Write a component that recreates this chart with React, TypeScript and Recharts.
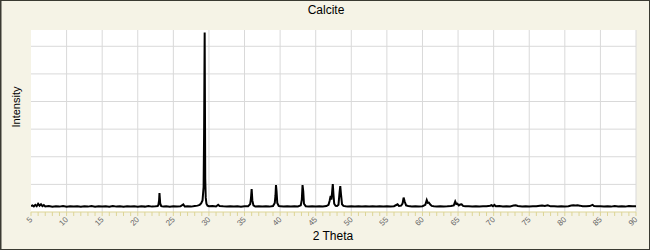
import { LineChart, Line, XAxis, YAxis, CartesianGrid } from "recharts";

// Powder diffraction scan
const twoTheta = [
  5.0, 5.2, 5.4, 5.6, 5.8, 6.0, 6.2, 6.4, 6.6, 6.8, 7.0, 7.5, 8.0, 8.5, 9.0, 9.5,
  10.0, 10.5, 11.0, 11.5, 12.0, 12.5, 13.0, 13.5, 14.0, 14.5, 15.0, 15.5, 16.0, 16.5,
  17.0, 17.5, 18.0, 18.5, 19.0, 19.5, 20.0, 20.5, 21.0, 21.5, 22.0, 22.5, 22.8, 22.9,
  23.0, 23.05, 23.15, 23.3, 23.6, 24.0, 24.5, 25.0, 25.5, 26.0, 26.4, 26.6, 27.0, 27.5,
  28.0, 28.4, 28.7, 28.9, 29.1, 29.25, 29.32, 29.4, 29.48, 29.55, 29.65, 29.8, 30.0,
  30.5, 31.0, 31.3, 31.5, 32.0, 32.5, 33.0, 33.5, 34.0, 34.5, 35.0, 35.5, 35.8, 35.9,
  36.0, 36.1, 36.25, 36.5, 37.0, 37.5, 38.0, 38.5, 39.0, 39.25, 39.35, 39.42, 39.5,
  39.6, 39.8, 40.0, 40.5, 41.0, 41.5, 42.0, 42.5, 42.9, 43.05, 43.15, 43.25, 43.35,
  43.6, 44.0, 44.5, 45.0, 45.5, 46.0, 46.5, 46.8, 46.95, 47.1, 47.2, 47.3, 47.4, 47.5,
  47.6, 47.8, 48.0, 48.2, 48.35, 48.45, 48.55, 48.7, 48.9, 49.2, 49.5, 50.0, 50.5,
  51.0, 51.5, 52.0, 52.5, 53.0, 53.5, 54.0, 54.5, 55.0, 55.5, 56.0, 56.5, 56.7, 57.0,
  57.2, 57.35, 57.5, 57.7, 58.0, 58.5, 59.0, 59.5, 60.0, 60.4, 60.6, 60.75, 60.9, 61.1,
  61.3, 61.6, 62.0, 62.5, 63.0, 63.5, 64.0, 64.4, 64.6, 64.75, 64.9, 65.1, 65.3, 65.5,
  65.7, 66.0, 66.5, 67.0, 67.5, 68.0, 68.5, 69.0, 69.5, 69.7, 69.9, 70.1, 70.3, 70.8,
  71.3, 71.8, 72.3, 72.8, 73.1, 73.4, 74.0, 74.5, 75.0, 75.5, 76.0, 76.5, 76.8, 77.2,
  77.6, 78.0, 78.5, 79.0, 79.5, 80.0, 80.5, 80.9, 81.2, 81.5, 81.8, 82.1, 82.5, 83.0,
  83.5, 83.9, 84.1, 84.5, 85.0, 85.5, 86.0, 86.5, 87.0, 87.5, 88.0, 88.5, 89.0, 89.5,
  90.0,
];

const counts = [
  215, 240, 205, 260, 210, 300, 230, 280, 210, 250, 200, 215, 190, 210, 195, 215,
  190, 210, 195, 205, 190, 210, 195, 215, 190, 210, 200, 205, 190, 215,
  195, 205, 190, 210, 195, 205, 190, 210, 195, 220, 195, 205, 215, 260,
  430, 690, 310, 210, 195, 205, 190, 210, 195, 205, 275, 200, 210, 195,
  215, 230, 260, 310, 420, 900, 2860, 6500, 1200, 520, 300, 230, 210,
  215, 200, 260, 220, 205, 195, 210, 195, 205, 190, 210, 205, 290, 480,
  830, 420, 240, 200, 210, 195, 205, 195, 215, 330, 600, 975, 750,
  330, 220, 205, 195, 210, 195, 205, 200, 240, 450, 975, 750, 300,
  210, 200, 210, 195, 205, 200, 215, 260, 400, 580, 450, 700, 1010, 620,
  300, 220, 215, 260, 700, 940, 650, 280, 220, 205, 200, 210, 195,
  205, 195, 210, 195, 205, 195, 210, 200, 205, 195, 210, 280, 220, 230,
  300, 520, 380, 240, 215, 200, 210, 195, 210, 260, 430, 330, 340, 270,
  220, 205, 195, 210, 200, 205, 215, 240, 380, 290, 300, 240, 270, 280,
  220, 205, 210, 195, 205, 200, 205, 210, 225, 245, 210, 255, 205, 215,
  200, 210, 200, 235, 240, 215, 200, 210, 195, 210, 205, 230, 235, 215,
  240, 205, 210, 200, 205, 200, 210, 235, 240, 235, 240, 230, 205, 210,
  215, 260, 220, 205, 210, 200, 210, 195, 215, 200, 210, 195, 215, 205,
  210,
];

const xTickLabels = [5, 10, 15, 20, 25, 30, 35, 40, 45, 50, 55, 60, 65, 70, 75, 80, 85, 90];
const yGridValues = [1000, 2000, 3000, 4000, 5000, 6000];
const yMinorTicks = [0, 500, 1000, 1500, 2000, 2500, 3000, 3500, 4000, 4500, 5000, 5500, 6000, 6500];

const data = twoTheta.map((x, i) => ({ x, y: counts[i] }));
const xMinorTicks = Array.from({ length: 86 }, (_, i) => 5 + i);

const AXIS = "#ddd597";
const FONT = "'Liberation Sans', Arial, sans-serif";

function XTick(props: any) {
  const { x, y, payload } = props;
  if (!xTickLabels.includes(payload.value)) return <g />;
  return (
    <text
      x={x + 2}
      y={y + 2}
      textAnchor="end"
      fontSize={8}
      fill="#666"
      fontFamily={FONT}
      transform={`rotate(-45, ${x + 2}, ${y + 2})`}
    >
      {payload.value}
    </text>
  );
}

export default function App() {
  return (
    <div
      style={{
        position: "absolute",
        left: 0,
        top: 0,
        width: 650,
        height: 250,
        background: "#f5f3e6",
      }}
    >
      <LineChart
        width={650}
        height={250}
        data={data}
        margin={{ top: 30, right: 14, bottom: 8, left: 31 }}
      >
        <CartesianGrid
          stroke="#d9d9d9"
          fill="#ffffff"
          horizontalValues={yGridValues}
          verticalValues={xTickLabels.slice(1)}
        />
        <XAxis
          dataKey="x"
          type="number"
          domain={[5, 90]}
          ticks={xMinorTicks}
          interval={0}
          height={30}
          tickSize={4}
          stroke={AXIS}
          tickLine={{ stroke: AXIS }}
          axisLine={{ stroke: AXIS }}
          tick={<XTick />}
          allowDataOverflow
        />
        <YAxis
          type="number"
          domain={[0, 6590]}
          ticks={yMinorTicks}
          interval={0}
          width={0}
          mirror
          tickSize={3}
          tickLine={{ stroke: AXIS }}
          axisLine={{ stroke: AXIS }}
          tick={() => <g />}
          allowDataOverflow
        />
        <Line
          type="linear"
          dataKey="y"
          stroke="#000"
          strokeWidth={2}
          dot={false}
          isAnimationActive={false}
        />
      </LineChart>
      <svg
        width={650}
        height={250}
        style={{ position: "absolute", left: 0, top: 0, pointerEvents: "none" }}
      >
        <text x={326} y={14} textAnchor="middle" fontSize={12} fontFamily={FONT} fill="#000">
          Calcite
        </text>
        <text x={333} y={240} textAnchor="middle" fontSize={12} fontFamily={FONT} fill="#000">
          2 Theta
        </text>
        <text
          transform="translate(20, 107) rotate(-90)"
          textAnchor="middle"
          fontSize={11}
          fontFamily={FONT}
          fill="#000"
        >
          Intensity
        </text>
        <rect x={1} y={0.5} width={648.5} height={249} fill="none" stroke="#3a3a32" strokeWidth={1} />
        <line x1={0.5} y1={0} x2={0.5} y2={250} stroke="#3a3a32" strokeWidth={1} />
      </svg>
    </div>
  );
}
